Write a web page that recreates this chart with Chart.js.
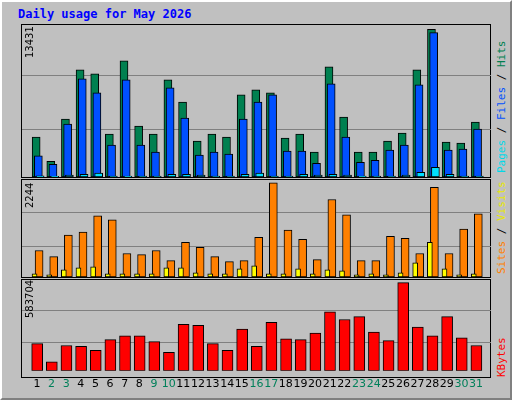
<!DOCTYPE html>
<html><head><meta charset="utf-8">
<script src="https://cdn.jsdelivr.net/npm/chart.js@4"></script>
<style>
html,body{margin:0;padding:0;background:#c0c0c0;}
#frame{position:absolute;left:0;top:0;width:508px;height:396px;background:#c0c0c0;border-top:2px solid #fff;border-left:2px solid #fff;border-right:2px solid #808080;border-bottom:2px solid #808080;}
.box{position:absolute;}
.rot{position:absolute;transform-origin:0 0;transform:rotate(-90deg);white-space:nowrap;font-family:"DejaVu Sans Mono",monospace;}
#title{position:absolute;left:18px;top:7px;font:bold 12px "DejaVu Sans Mono",monospace;color:#0000ff;}
.panel{position:absolute;left:21px;width:470px;border:1px solid #000;box-sizing:border-box;}
</style></head><body>
<div id="frame"></div>
<div id="title">Daily usage for May 2026</div>
<div class="panel" style="top:24px;height:154px"></div>
<div class="panel" style="top:179px;height:99px"></div>
<div class="panel" style="top:279px;height:99px"></div>
<div class="box" style="left:22px;top:25px;width:469px;height:152px"><canvas id="c1"></canvas></div>
<div class="box" style="left:22px;top:180px;width:469px;height:97px"><canvas id="c2"></canvas></div>
<div class="box" style="left:22px;top:280px;width:469px;height:118px"><canvas id="c3"></canvas></div>
<div id="labels"></div>
<script>
const days = [1,2,3,4,5,6,7,8,9,10,11,12,13,14,15,16,17,18,19,20,21,22,23,24,25,26,27,28,29,30,31];
const weekend = [2,3,9,10,16,17,23,24,30,31];
const hits  = [3630,1435,5275,9750,9390,3900,10575,4630,3900,8840,6830,3260,3900,3630,7470,7925,7650,3540,3900,2260,10030,5455,2260,2260,3260,3995,9750,13431,3170,3080,5000];
const files = [1920,1160,4820,8930,7650,2900,8840,2900,2260,8110,5365,1985,2260,2075,5275,6830,7470,2350,2350,1250,8475,3630,1345,1525,2440,2900,8380,13135,2440,2530,4360];
const pages = [100,60,180,250,365,90,80,90,90,250,250,180,90,90,250,365,90,90,250,180,250,180,80,90,90,180,430,890,250,90,90];
const visits= [632,486,996,1069,1458,1361,559,535,632,389,826,705,486,365,389,948,2244,1118,899,413,1847,1482,389,389,972,923,559,2138,559,1142,1507];
const sites = [73,49,170,219,243,73,73,73,73,219,219,97,73,73,194,267,73,73,194,73,170,146,49,73,49,97,340,826,194,49,73];
const kbytes= [180400,59400,167700,161300,135800,205900,231400,231400,193200,123100,307800,301400,180400,135800,275900,161300,320500,212300,205900,250500,390600,339600,358700,256800,199500,583704,288700,231400,358700,218600,167700];

function pts(arr, off){ return arr.map((v,i)=>({x:days[i]+off, y:v})); }
function ds(arr, off, color, w, order){
  return {data:pts(arr,off), backgroundColor:color, borderColor:'#000', borderWidth:1, barThickness:w, order:order, grouped:false, borderSkipped:false};
}
function yScale(max){
  return {min:0, max:max*1.03, display:true, border:{display:false},
    ticks:{display:false}, grid:{color:'#808080', lineWidth:1, drawTicks:false},
    afterBuildTicks:s=>{ s.ticks=[{value:max*0.325},{value:max*0.685}]; }};
}
function xScale(show){
  return {type:'linear', min:0.5, max:31.5, display:show, border:{display:false},
    grid:{display:false, drawTicks:false},
    afterBuildTicks:s=>{ s.ticks=days.map(d=>({value:d})); },
    ticks:{autoSkip:false, maxRotation:0, padding:7, font:{family:'DejaVu Sans', size:11},
      color:c=> weekend.includes(c.tick.value)?'#00805a':'#000',
      callback:v=>String(v)}};
}
const base = {responsive:true, maintainAspectRatio:false, animation:false,
  plugins:{legend:{display:false}, tooltip:{enabled:false}}, layout:{padding:0}};
Chart.defaults.font.family='DejaVu Sans';

const mh=Math.max(...hits), mv=Math.max(...visits), mk=Math.max(...kbytes);
new Chart(document.getElementById('c1'),{type:'bar',
  data:{datasets:[ds(hits,-0.05,'#008050',8,3), ds(files,0.1,'#0050ff',8,2), ds(pages,0.22,'#00e0ff',8,1)]},
  options:{...base, scales:{x:xScale(false), y:yScale(mh)}}});
new Chart(document.getElementById('c2'),{type:'bar',
  data:{datasets:[ds(sites,-0.16,'#ffff00',5,1), ds(visits,0.15,'#ff8000',8,2)]},
  options:{...base, scales:{x:xScale(false), y:yScale(mv)}}});
new Chart(document.getElementById('c3'),{type:'bar',
  data:{datasets:[ds(kbytes,0.02,'#ff0000',11,1)]},
  options:{...base, scales:{x:xScale(true), y:yScale(mk)}}});

const L=document.getElementById('labels');
function rot(x,yBottom,html,size){
  const d=document.createElement('div'); d.className='rot';
  d.style.left=x+'px'; d.style.top=yBottom+'px'; d.style.fontSize=size+'px'; d.innerHTML=html; L.appendChild(d);
}
rot(24,58,'<span style="font-family:DejaVu Sans;color:#000">'+mh+'</span>',10);
rot(24,208,'<span style="font-family:DejaVu Sans;color:#000">'+mv+'</span>',10);
rot(24,318,'<span style="font-family:DejaVu Sans;color:#000">'+mk+'</span>',10);
rot(495,173,'<span style="color:#00d8e8">Pages</span><span style="color:#000"> / </span><span style="color:#0050ff">Files</span><span style="color:#000"> / </span><span style="color:#008050">Hits</span>',11);
rot(495,274,'<span style="color:#ff8000">Sites</span><span style="color:#000"> / </span><span style="color:#e8e800">Visits</span>',11);
rot(495,377,'<span style="color:#ff0000">KBytes</span>',11);
</script>
</body></html>
